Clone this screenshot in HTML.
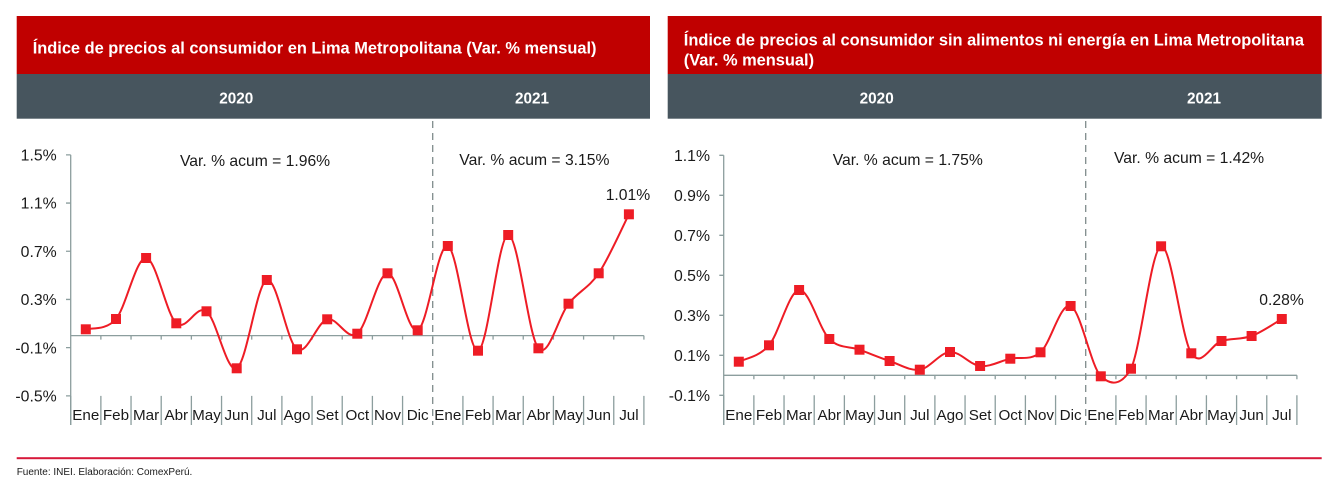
<!DOCTYPE html>
<html><head><meta charset="utf-8"><style>
html,body{margin:0;padding:0;background:#fff;}
svg{display:block;}
text{font-family:"Liberation Sans",Arial,sans-serif;}
</style></head><body>
<svg width="1343" height="492" viewBox="0 0 1343 492" xmlns="http://www.w3.org/2000/svg">
<rect width="1343" height="492" fill="#fff"/>
<!-- Headers -->
<rect x="16.7" y="16" width="633.3" height="58" fill="#C00000"/>
<rect x="16.7" y="74" width="633.3" height="44.7" fill="#47555E"/>
<rect x="667.7" y="16" width="654" height="58" fill="#C00000"/>
<rect x="667.7" y="74" width="654" height="44.7" fill="#47555E"/>
<text x="32.7" y="53.3" font-size="16.4" font-weight="bold" fill="#fff">Índice de precios al consumidor en Lima Metropolitana (Var. % mensual)</text>
<text x="683.8" y="45.5" font-size="16.4" font-weight="bold" fill="#fff">Índice de precios al consumidor sin alimentos ni energía en Lima Metropolitana</text>
<text x="683.8" y="65.5" font-size="16.4" font-weight="bold" fill="#fff">(Var. % mensual)</text>
<g font-size="15.3" font-weight="bold" fill="#fff" text-anchor="middle">
<text x="236.3" y="103.3">2020</text>
<text x="532" y="103.3">2021</text>
<text x="876.7" y="103.3">2020</text>
<text x="1204" y="103.3">2021</text>
</g>

<!-- LEFT CHART -->
<g stroke="#8C9E9E" stroke-width="1.3" fill="none">
<line x1="70.7" y1="154.85" x2="70.7" y2="425"/>
<path d="M66,154.85H70.7M66,203.05H70.7M66,251.25H70.7M66,299.45H70.7M66,347.65H70.7M66,395.85H70.7"/>
<line x1="70.7" y1="335.6" x2="643.9" y2="335.6"/>
<path d="M100.87,335.6v4M131.04,335.6v4M161.21,335.6v4M191.38,335.6v4M221.55,335.6v4M251.72,335.6v4M281.89,335.6v4M312.06,335.6v4M342.23,335.6v4M372.4,335.6v4M402.57,335.6v4M432.74,335.6v4M462.91,335.6v4M493.08,335.6v4M523.25,335.6v4M553.42,335.6v4M583.59,335.6v4M613.76,335.6v4M643.9,335.6v4"/>
<path d="M70.7,395.85V425M100.87,395.85V425M131.04,395.85V425M161.21,395.85V425M191.38,395.85V425M221.55,395.85V425M251.72,395.85V425M281.89,395.85V425M312.06,395.85V425M342.23,395.85V425M372.4,395.85V425M402.57,395.85V425M462.91,395.85V425M493.08,395.85V425M523.25,395.85V425M553.42,395.85V425M583.59,395.85V425M613.76,395.85V425M643.9,395.85V425"/>
</g>
<line x1="432.7" y1="121" x2="432.7" y2="425" stroke="#7F8C8C" stroke-width="1.3" stroke-dasharray="7 5"/>
<g font-size="15.8" fill="#1a1a1a" text-anchor="end">
<text x="56.7" y="160.5">1.5%</text>
<text x="56.7" y="208.7">1.1%</text>
<text x="56.7" y="256.9">0.7%</text>
<text x="56.7" y="305.1">0.3%</text>
<text x="56.7" y="353.3">-0.1%</text>
<text x="56.7" y="401.5">-0.5%</text>
</g>
<g font-size="15.2" fill="#1a1a1a" text-anchor="middle">
<text x="85.8" y="420">Ene</text><text x="116.0" y="420">Feb</text><text x="146.1" y="420">Mar</text><text x="176.3" y="420">Abr</text><text x="206.5" y="420">May</text><text x="236.7" y="420">Jun</text><text x="266.8" y="420">Jul</text><text x="297.0" y="420">Ago</text><text x="327.2" y="420">Set</text><text x="357.3" y="420">Oct</text><text x="387.5" y="420">Nov</text><text x="417.7" y="420">Dic</text><text x="447.8" y="420">Ene</text><text x="478.0" y="420">Feb</text><text x="508.2" y="420">Mar</text><text x="538.4" y="420">Abr</text><text x="568.5" y="420">May</text><text x="598.7" y="420">Jun</text><text x="628.9" y="420">Jul</text>
</g>
<g font-size="15.7" fill="#1a1a1a">
<text x="180" y="166">Var. % acum = 1.96%</text>
<text x="459.3" y="165">Var. % acum = 3.15%</text>
<text x="605.7" y="200">1.01%</text>
</g>
<path fill="none" stroke="#EE1C25" stroke-width="2" d="M85.8,329.3 C90.83,327.58 105.94,330.88 116.0,319.0 C126.06,307.12 136.04,257.28 146.1,258 C156.16,258.72 166.24,314.42 176.3,323.3 C186.36,332.18 196.44,303.8 206.5,311.3 C216.56,318.8 226.64,373.52 236.7,368.3 C246.76,363.08 256.74,283.17 266.8,280 C276.86,276.83 286.94,342.75 297.0,349.3 C307.06,355.85 317.14,321.9 327.2,319.3 C337.26,316.7 347.24,341.37 357.3,333.7 C367.36,326.03 377.44,273.87 387.5,273.3 C397.56,272.73 407.64,334.85 417.7,330.3 C427.76,325.75 437.74,242.6 447.8,246 C457.86,249.4 467.94,352.53 478.0,350.7 C488.06,348.87 498.14,235.4 508.2,235 C518.26,234.6 528.34,336.85 538.4,348.3 C548.46,359.75 558.44,316.2 568.5,303.7 C578.56,291.2 588.64,288.2 598.7,273.3 C608.76,258.4 623.87,224.13 628.9,214.3"/>
<g fill="#EE1C25">
<rect x="80.8" y="324.3" width="10" height="10"/><rect x="111" y="314" width="10" height="10"/><rect x="141.1" y="253" width="10" height="10"/><rect x="171.3" y="318.3" width="10" height="10"/><rect x="201.5" y="306.3" width="10" height="10"/><rect x="231.7" y="363.3" width="10" height="10"/><rect x="261.8" y="275" width="10" height="10"/><rect x="292" y="344.3" width="10" height="10"/><rect x="322.2" y="314.3" width="10" height="10"/><rect x="352.3" y="328.7" width="10" height="10"/><rect x="382.5" y="268.3" width="10" height="10"/><rect x="412.7" y="325.3" width="10" height="10"/><rect x="442.8" y="241" width="10" height="10"/><rect x="473" y="345.7" width="10" height="10"/><rect x="503.2" y="230" width="10" height="10"/><rect x="533.4" y="343.3" width="10" height="10"/><rect x="563.5" y="298.7" width="10" height="10"/><rect x="593.7" y="268.3" width="10" height="10"/><rect x="623.9" y="209.3" width="10" height="10"/>
</g>

<!-- RIGHT CHART -->
<g stroke="#8C9E9E" stroke-width="1.3" fill="none">
<line x1="723.7" y1="155.3" x2="723.7" y2="425"/>
<path d="M719.3,155.3H723.7M719.3,195.3H723.7M719.3,235.3H723.7M719.3,275.3H723.7M719.3,315.3H723.7M719.3,355.3H723.7M719.3,395.3H723.7"/>
<line x1="723.7" y1="375.3" x2="1296.9" y2="375.3"/>
<path d="M753.87,375.3v4M784.04,375.3v4M814.21,375.3v4M844.38,375.3v4M874.55,375.3v4M904.72,375.3v4M934.89,375.3v4M965.06,375.3v4M995.23,375.3v4M1025.4,375.3v4M1055.57,375.3v4M1085.74,375.3v4M1115.91,375.3v4M1146.08,375.3v4M1176.25,375.3v4M1206.42,375.3v4M1236.59,375.3v4M1266.76,375.3v4M1296.9,375.3v4"/>
<path d="M723.7,395.3V425M753.87,395.3V425M784.04,395.3V425M814.21,395.3V425M844.38,395.3V425M874.55,395.3V425M904.72,395.3V425M934.89,395.3V425M965.06,395.3V425M995.23,395.3V425M1025.4,395.3V425M1055.57,395.3V425M1115.91,395.3V425M1146.08,395.3V425M1176.25,395.3V425M1206.42,395.3V425M1236.59,395.3V425M1266.76,395.3V425M1296.9,395.3V425"/>
</g>
<line x1="1085.7" y1="121" x2="1085.7" y2="425" stroke="#7F8C8C" stroke-width="1.3" stroke-dasharray="7 5"/>
<g font-size="15.8" fill="#1a1a1a" text-anchor="end">
<text x="710" y="161">1.1%</text>
<text x="710" y="201">0.9%</text>
<text x="710" y="241">0.7%</text>
<text x="710" y="281">0.5%</text>
<text x="710" y="321">0.3%</text>
<text x="710" y="361">0.1%</text>
<text x="710" y="401">-0.1%</text>
</g>
<g font-size="15.2" fill="#1a1a1a" text-anchor="middle">
<text x="738.8" y="420">Ene</text><text x="769.0" y="420">Feb</text><text x="799.1" y="420">Mar</text><text x="829.3" y="420">Abr</text><text x="859.5" y="420">May</text><text x="889.6" y="420">Jun</text><text x="919.8" y="420">Jul</text><text x="950.0" y="420">Ago</text><text x="980.1" y="420">Set</text><text x="1010.3" y="420">Oct</text><text x="1040.5" y="420">Nov</text><text x="1070.6" y="420">Dic</text><text x="1100.8" y="420">Ene</text><text x="1131.0" y="420">Feb</text><text x="1161.1" y="420">Mar</text><text x="1191.3" y="420">Abr</text><text x="1221.5" y="420">May</text><text x="1251.6" y="420">Jun</text><text x="1281.8" y="420">Jul</text>
</g>
<g font-size="15.7" fill="#1a1a1a">
<text x="832.7" y="165">Var. % acum = 1.75%</text>
<text x="1114" y="163">Var. % acum = 1.42%</text>
<text x="1259.3" y="305">0.28%</text>
</g>
<path fill="none" stroke="#EE1C25" stroke-width="2" d="M738.8,361.7 C743.83,358.97 758.94,357.25 769.0,345.3 C779.06,333.35 789.04,291.05 799.1,290 C809.16,288.95 819.24,329.05 829.3,339 C839.36,348.95 849.44,346.03 859.5,349.7 C869.56,353.37 879.54,357.67 889.6,361 C899.66,364.33 909.74,371.2 919.8,369.7 C929.86,368.2 939.94,352.62 950.0,352 C960.06,351.38 970.04,364.88 980.1,366 C990.16,367.12 1000.24,360.98 1010.3,358.7 C1020.36,356.42 1030.44,361.08 1040.5,352.3 C1050.56,343.52 1060.54,302 1070.6,306 C1080.66,310 1090.74,365.85 1100.8,376.3 C1110.86,385.5 1120.94,386 1131.0,368.7 C1141.06,347.03 1151.04,248.87 1161.1,246.3 C1171.16,243.73 1181.24,337.52 1191.3,353.3 C1201.36,369.08 1211.44,343.88 1221.5,341 C1231.56,338.12 1241.54,339.67 1251.6,336 C1261.66,332.33 1276.77,321.83 1281.8,319"/>
<g fill="#EE1C25">
<rect x="733.8" y="356.7" width="10" height="10"/><rect x="764" y="340.3" width="10" height="10"/><rect x="794.1" y="285" width="10" height="10"/><rect x="824.3" y="334" width="10" height="10"/><rect x="854.5" y="344.7" width="10" height="10"/><rect x="884.6" y="356" width="10" height="10"/><rect x="914.8" y="364.7" width="10" height="10"/><rect x="945" y="347" width="10" height="10"/><rect x="975.1" y="361" width="10" height="10"/><rect x="1005.3" y="353.7" width="10" height="10"/><rect x="1035.5" y="347.3" width="10" height="10"/><rect x="1065.6" y="301" width="10" height="10"/><rect x="1095.8" y="371.3" width="10" height="10"/><rect x="1126" y="363.7" width="10" height="10"/><rect x="1156.1" y="241.3" width="10" height="10"/><rect x="1186.3" y="348.3" width="10" height="10"/><rect x="1216.5" y="336" width="10" height="10"/><rect x="1246.6" y="331" width="10" height="10"/><rect x="1276.8" y="314" width="10" height="10"/>
</g>

<!-- Footer -->
<rect x="16.7" y="457.2" width="1305" height="2" fill="#D7193A"/>
<text x="16.7" y="475" font-size="10" fill="#1a1a1a">Fuente: INEI. Elaboración: ComexPerú.</text>
</svg>
</body></html>
